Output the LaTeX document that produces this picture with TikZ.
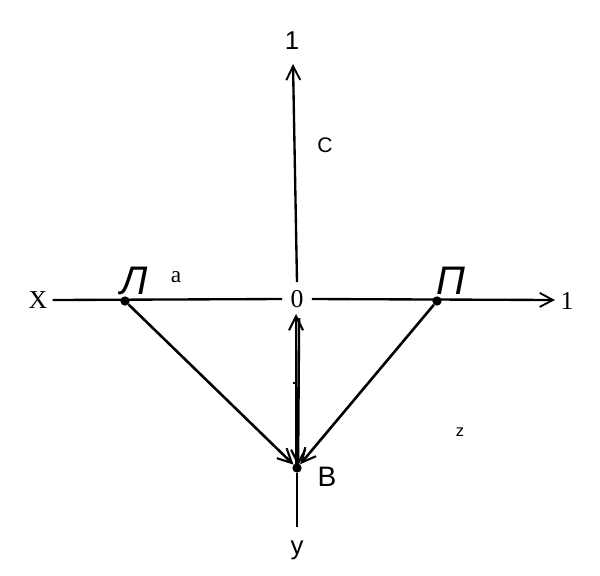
\documentclass[tikz,border=0pt]{standalone}
\usepackage{fontspec}
\setmainfont{Liberation Serif}
\setsansfont{Liberation Sans}
\usetikzlibrary{arrows.meta,positioning}

\tikzset{
	axis/.style={line width=2pt},
	vec/.style={line width=2.2pt, -{Straight Barb[length=4.2mm, width=4.2mm, line width=1.8pt]}},
	pt/.style={circle, fill=black, inner sep=0pt, minimum size=2.8mm},
	serlab/.style={inner sep=1pt, font=\fontsize{22}{22}\selectfont},
	sanslab/.style={inner sep=1pt, font=\sffamily\fontsize{22}{22}\selectfont},
	bigletter/.style={inner sep=1pt, font=\sffamily\itshape\fontsize{34}{34}\selectfont}
}

\begin{document}
\begin{tikzpicture}[x=0.03cm, y=-0.03cm]
\useasboundingbox (0,0) rectangle (600,575);

%Labels on the axes
\node[serlab] (xlab) at (38,300) {X};
\node[serlab, inner sep=7pt] (zero) at (297,299) {0};
\node[serlab] (rlab) at (567,301) {1};
\node[sanslab] (toplab) at (292,41) {1};
\node[sanslab] (ylab) at (297,550) {y};
\node[sanslab, font=\sffamily\fontsize{18}{18}\selectfont] (clab) at (325,145) {C};
\node[serlab, font=\fontsize{20}{20}\selectfont] (alab) at (176,277) {a};
\node[sanslab, font=\sffamily\fontsize{14}{14}\selectfont] (zlab) at (460,432) {z};

%Points
\node[pt] (L) at (125,301) {};
\node[pt] (P) at (437,301) {};
\node[pt] (B) at (297,468) {};
\node[bigletter] (Llab) at (134,281) {Л};
\node[bigletter] (Plab) at (451,281) {П};
\node[sanslab, font=\sffamily\fontsize{24}{24}\selectfont] (Blab) at (327,477) {B};

\coordinate (topend) at (293,64);
\coordinate (rightend) at (555,300);
\coordinate (botend) at (297,527);

%Axes
\draw[axis] (xlab.east) ++(4,0) -- (zero.west);
\draw[axis, -{Straight Barb[length=4mm, width=4.2mm, line width=1.6pt]}] (zero.east) -- (rightend);
\draw[axis, -{Straight Barb[length=4.2mm, width=4.2mm, line width=1.6pt]}] (297,282) -- (topend);
\draw[axis] (B) -- (botend);
\draw[line width=1.4pt] (293,383) -- (296,383);

%Vectors to B and back
\draw[vec] (L) -- (B);
\draw[vec] (P) -- (B);
\draw[vec] (296,466) -- (296,314);
\draw[vec] (299,318) -- (298,466);
\end{tikzpicture}
\end{document}
